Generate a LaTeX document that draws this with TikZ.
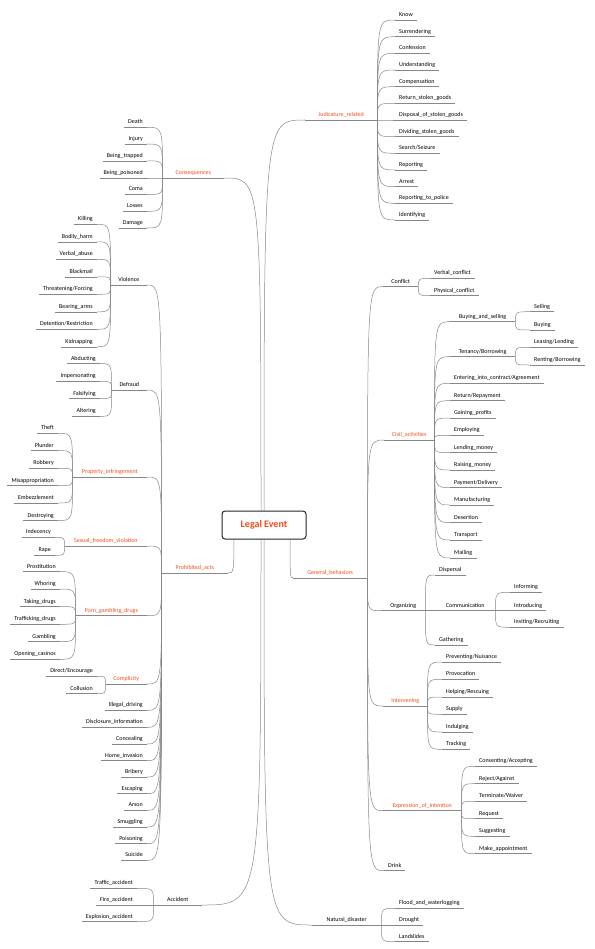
\documentclass[tikz,border=0pt]{standalone}
\usepackage{fontspec}
\setmainfont{Carlito}
\usepackage{xcolor}
\usepackage{tikz}

\definecolor{eventred}{RGB}{244,76,28}
\definecolor{linegray}{RGB}{135,135,135}

\begin{document}
\begin{tikzpicture}[x=1pt, y=-1pt,
    topic/.style={inner xsep=4pt, inner ysep=2pt, text height=4.4pt, text depth=1.4pt,
      font=\fontsize{6}{7}\selectfont,
      append after command={(\tikzlastnode.south west) edge[uline] (\tikzlastnode.south east)}},
    rtopic/.style={topic, anchor=south west},
    ltopic/.style={topic, anchor=south east},
    hot/.style={text=eventred},
    uline/.style={draw=linegray, line width=0.5pt},
    link/.style={draw=linegray, line width=0.5pt,
      to path={.. controls (\tikztostart |- \tikztotarget) .. (\tikztotarget)}},
    rootbox/.style={rectangle, draw=black!85, line width=1pt, rounded corners=3pt, fill=white,
      minimum width=84pt, minimum height=28pt, text=eventred, font=\fontsize{10}{12}\selectfont\bfseries}
  ]
  \useasboundingbox (0,0) rectangle (594,949);

  % hubs inside the root box
  \coordinate (hubA) at (261,525);
  \coordinate (hubB) at (264,525);
  \coordinate (hubP) at (234,525);
  \coordinate (hubG) at (290,525);

  % main topics
  \node[rtopic, hot, minimum width=72pt] (jud)      at (305,120) {Judicature\_related};
  \node[ltopic, hot, minimum width=61pt] (conseq)   at (224,178) {Consequences};
  \node[ltopic, hot, minimum width=66pt] (prohib)   at (228,573) {Prohibited\_acts};
  \node[rtopic, hot, minimum width=74pt] (general)  at (293,578) {General\_behaviors};
  \node[ltopic, minimum width=48pt]      (accident) at (202,905) {Accident};
  \node[rtopic, minimum width=69pt]      (natural)  at (312,925) {Natural\_disaster};

  % judicature
  \node[rtopic] (know)      at (395,20)    {Know};
  \node[rtopic] (surrender) at (395,36.7)  {Surrendering};
  \node[rtopic] (confess)   at (395,53.3)  {Confession};
  \node[rtopic] (underst)   at (395,70)    {Understanding};
  \node[rtopic] (compens)   at (395,86.7)  {Compensation};
  \node[rtopic] (retgoods)  at (395,103.3) {Return\_stolen\_goods};
  \node[rtopic] (disposal)  at (395,120)   {Disposal\_of\_stolen\_goods};
  \node[rtopic] (dividing)  at (395,136.7) {Dividing\_stolen\_goods};
  \node[rtopic] (search)    at (395,153.3) {Search/Seizure};
  \node[rtopic] (report)    at (395,170)   {Reporting};
  \node[rtopic] (arrest)    at (395,186.7) {Arrest};
  \node[rtopic] (reppolice) at (395,203.3) {Reporting\_to\_police};
  \node[rtopic] (identify)  at (395,220)   {Identifying};

  % consequences
  \node[ltopic] (death)    at (147,127.3) {Death};
  \node[ltopic] (injury)   at (147,144)   {Injury};
  \node[ltopic] (trapped)  at (147,160.8) {Being\_trapped};
  \node[ltopic] (poisoned) at (147,178)   {Being\_poisoned};
  \node[ltopic] (coma)     at (147,194.5) {Coma};
  \node[ltopic] (losses)   at (147,211.3) {Losses};
  \node[ltopic] (damage)   at (147,228)   {Damage};

  % prohibited acts
  \node[ltopic, minimum width=36pt]      (violence)   at (147,285)   {Violence};
  \node[ltopic, minimum width=35pt]      (defraud)    at (147,390)   {Defraud};
  \node[ltopic, hot, minimum width=74pt] (property)   at (147,477)   {Property\_infringement};
  \node[ltopic, hot, minimum width=82pt] (sexual)     at (147,546)   {Sexual\_freedom\_violation};
  \node[ltopic, hot, minimum width=71pt] (porn)       at (147,615.7) {Porn\_gambling\_drugs};
  \node[ltopic, hot, minimum width=41pt] (complicity) at (147,684)   {Complicity};
  \node[ltopic] (illegaldr) at (147,710.3) {Illegal\_driving};
  \node[ltopic] (disclose)  at (147,727.3) {Disclosure\_information};
  \node[ltopic] (conceal)   at (147,744)   {Concealing};
  \node[ltopic] (homeinv)   at (147,760.7) {Home\_invasion};
  \node[ltopic] (bribery)   at (147,777)   {Bribery};
  \node[ltopic] (escape)    at (147,793.7) {Escaping};
  \node[ltopic] (arson)     at (147,810.3) {Arson};
  \node[ltopic] (smuggle)   at (147,827)   {Smuggling};
  \node[ltopic] (poison)    at (147,843.7) {Poisoning};
  \node[ltopic] (suicide)   at (147,860.3) {Suicide};

  \node[ltopic] (killing)   at (97,224.3) {Killing};
  \node[ltopic] (bodily)    at (97,241.8) {Bodily\_harm};
  \node[ltopic] (verbal)    at (97,259.3) {Verbal\_abuse};
  \node[ltopic] (blackmail) at (97,276.8) {Blackmail};
  \node[ltopic] (threat)    at (97,294.3) {Threatening/Forcing};
  \node[ltopic] (arms)      at (97,311.8) {Bearing\_arms};
  \node[ltopic] (detention) at (97,329.3) {Detention/Restriction};
  \node[ltopic] (kidnap)    at (97,346.8) {Kidnapping};

  \node[ltopic] (abduct)   at (100,363.6) {Abducting};
  \node[ltopic] (imperson) at (100,381.3) {Impersonating};
  \node[ltopic] (falsify)  at (100,398.6) {Falsifying};
  \node[ltopic] (alter)    at (100,416.3) {Altering};

  \node[ltopic] (theft)    at (58,433.3) {Theft};
  \node[ltopic] (plunder)  at (58,450.6) {Plunder};
  \node[ltopic] (robbery)  at (58,468.3) {Robbery};
  \node[ltopic] (misapp)   at (58,485.6) {Misappropriation};
  \node[ltopic] (embezzle) at (58,503)   {Embezzlement};
  \node[ltopic] (destroy)  at (58,520.6) {Destroying};

  \node[ltopic] (indecency) at (55,537.3) {Indecency};
  \node[ltopic] (rape)      at (55,555.3) {Rape};

  \node[ltopic] (prostit)  at (60,571.6) {Prostitution};
  \node[ltopic] (whoring)  at (60,589)   {Whoring};
  \node[ltopic] (takedrug) at (60,606.6) {Taking\_drugs};
  \node[ltopic] (trafdrug) at (60,624.3) {Trafficking\_drugs};
  \node[ltopic] (gambling) at (60,641.6) {Gambling};
  \node[ltopic] (casinos)  at (60,659.3) {Opening\_casinos};

  \node[ltopic] (direct)    at (97,676.3) {Direct/Encourage};
  \node[ltopic] (collusion) at (97,693.6) {Collusion};

  % accident
  \node[ltopic] (traffic)   at (137,888.3) {Traffic\_accident};
  \node[ltopic] (fire)      at (137,905)   {Fire\_accident};
  \node[ltopic] (explosion) at (137,921.7) {Explosion\_accident};

  % general behaviors
  \node[rtopic, minimum width=35pt]      (conflict)   at (383,286.7) {Conflict};
  \node[rtopic, hot, minimum width=50pt] (civil)      at (384,440)   {Civil\_activities};
  \node[rtopic, minimum width=44pt]      (organizing) at (381,610.7) {Organizing};
  \node[rtopic, hot, minimum width=44pt] (intervene)  at (383,706)   {Intervening};
  \node[rtopic, hot, minimum width=78pt] (expression) at (383,810.7) {Expression\_of\_Intention};
  \node[rtopic, minimum width=21pt]      (drink)      at (384,870.7) {Drink};

  \node[rtopic] (verbalc)   at (430,278.3) {Verbal\_conflict};
  \node[rtopic] (physicalc) at (430,295.7) {Physical\_conflict};

  \node[rtopic, minimum width=65pt] (buysell) at (450,321.7) {Buying\_and\_selling};
  \node[rtopic, minimum width=65pt] (tenancy) at (450,356.7) {Tenancy/Borrowing};
  \node[rtopic] (entering)   at (450,383.3) {Entering\_into\_contract/Agreement};
  \node[rtopic] (repay)      at (450,400.7) {Return/Repayment};
  \node[rtopic] (gaining)    at (450,418)   {Gaining\_profits};
  \node[rtopic] (employ)     at (450,435.3) {Employing};
  \node[rtopic] (lendmoney)  at (450,452.7) {Lending\_money};
  \node[rtopic] (raisemoney) at (450,470)   {Raising\_money};
  \node[rtopic] (payment)    at (450,487.7) {Payment/Delivery};
  \node[rtopic] (manufact)   at (450,505)   {Manufacturing};
  \node[rtopic] (desert)     at (450,522.7) {Desertion};
  \node[rtopic] (transport)  at (450,540)   {Transport};
  \node[rtopic] (mailing)    at (450,558)   {Mailing};

  \node[rtopic] (selling) at (530,311.7) {Selling};
  \node[rtopic] (buying)  at (530,330)   {Buying};
  \node[rtopic] (leasing) at (530,347.3) {Leasing/Lending};
  \node[rtopic] (renting) at (530,365)   {Renting/Borrowing};

  \node[rtopic] (dispersal) at (435,575) {Dispersal};
  \node[rtopic, minimum width=60pt] (communic) at (435,610.7) {Communication};
  \node[rtopic] (gathering) at (435,645) {Gathering};

  \node[rtopic] (inform)    at (510,592.3) {Informing};
  \node[rtopic] (introduce) at (510,610.7) {Introducing};
  \node[rtopic] (invite)    at (510,627.3) {Inviting/Recruiting};

  \node[rtopic] (prevent)  at (442,662)   {Preventing/Nuisance};
  \node[rtopic] (provoke)  at (442,679.3) {Provocation};
  \node[rtopic] (helping)  at (442,697)   {Helping/Rescuing};
  \node[rtopic] (supply)   at (442,714.3) {Supply};
  \node[rtopic] (indulge)  at (442,732)   {Indulging};
  \node[rtopic] (tracking) at (442,749.3) {Tracking};

  \node[rtopic] (consent)   at (475,766.3) {Consenting/Accepting};
  \node[rtopic] (reject)    at (475,783.7) {Reject/Against};
  \node[rtopic] (terminate) at (475,801.3) {Terminate/Waiver};
  \node[rtopic] (request)   at (475,818.7) {Request};
  \node[rtopic] (suggest)   at (475,836.3) {Suggesting};
  \node[rtopic] (appoint)   at (475,853.7) {Make\_appointment};

  % natural disaster
  \node[rtopic] (flood)     at (395,908.3) {Flood\_and\_waterlogging};
  \node[rtopic] (drought)   at (395,925)   {Drought};
  \node[rtopic] (landslide) at (395,941.7) {Landslides};

  % links from the root
  \path (hubB) edge[link] (jud.south west)
        (hubA) edge[link] (conseq.south east)
        (hubP) edge[link] (prohib.south east)
        (hubG) edge[link] (general.south west)
        (hubA) edge[link] (accident.south east)
        (hubB) edge[link] (natural.south west);

  \path (jud.south east)
    edge[link] (know.south west)     edge[link] (surrender.south west)
    edge[link] (confess.south west)  edge[link] (underst.south west)
    edge[link] (compens.south west)  edge[link] (retgoods.south west)
    edge[link] (disposal.south west) edge[link] (dividing.south west)
    edge[link] (search.south west)   edge[link] (report.south west)
    edge[link] (arrest.south west)   edge[link] (reppolice.south west)
    edge[link] (identify.south west);

  \path (conseq.south west)
    edge[link] (death.south east)    edge[link] (injury.south east)
    edge[link] (trapped.south east)  edge[link] (poisoned.south east)
    edge[link] (coma.south east)     edge[link] (losses.south east)
    edge[link] (damage.south east);

  \path (prohib.south west)
    edge[link] (violence.south east) edge[link] (defraud.south east)
    edge[link] (property.south east) edge[link] (sexual.south east)
    edge[link] (porn.south east)     edge[link] (complicity.south east)
    edge[link] (illegaldr.south east) edge[link] (disclose.south east)
    edge[link] (conceal.south east)  edge[link] (homeinv.south east)
    edge[link] (bribery.south east)  edge[link] (escape.south east)
    edge[link] (arson.south east)    edge[link] (smuggle.south east)
    edge[link] (poison.south east)   edge[link] (suicide.south east);

  \path (violence.south west)
    edge[link] (killing.south east)   edge[link] (bodily.south east)
    edge[link] (verbal.south east)    edge[link] (blackmail.south east)
    edge[link] (threat.south east)    edge[link] (arms.south east)
    edge[link] (detention.south east) edge[link] (kidnap.south east);

  \path (defraud.south west)
    edge[link] (abduct.south east)  edge[link] (imperson.south east)
    edge[link] (falsify.south east) edge[link] (alter.south east);

  \path (property.south west)
    edge[link] (theft.south east)   edge[link] (plunder.south east)
    edge[link] (robbery.south east) edge[link] (misapp.south east)
    edge[link] (embezzle.south east) edge[link] (destroy.south east);

  \path (sexual.south west)
    edge[link] (indecency.south east) edge[link] (rape.south east);

  \path (porn.south west)
    edge[link] (prostit.south east)  edge[link] (whoring.south east)
    edge[link] (takedrug.south east) edge[link] (trafdrug.south east)
    edge[link] (gambling.south east) edge[link] (casinos.south east);

  \path (complicity.south west)
    edge[link] (direct.south east) edge[link] (collusion.south east);

  \path (accident.south west)
    edge[link] (traffic.south east) edge[link] (fire.south east)
    edge[link] (explosion.south east);

  \path (general.south east)
    edge[link] (conflict.south west)   edge[link] (civil.south west)
    edge[link] (organizing.south west) edge[link] (intervene.south west)
    edge[link] (expression.south west) edge[link] (drink.south west);

  \path (conflict.south east)
    edge[link] (verbalc.south west) edge[link] (physicalc.south west);

  \path (civil.south east)
    edge[link] (buysell.south west)    edge[link] (tenancy.south west)
    edge[link] (entering.south west)   edge[link] (repay.south west)
    edge[link] (gaining.south west)    edge[link] (employ.south west)
    edge[link] (lendmoney.south west)  edge[link] (raisemoney.south west)
    edge[link] (payment.south west)    edge[link] (manufact.south west)
    edge[link] (desert.south west)     edge[link] (transport.south west)
    edge[link] (mailing.south west);

  \path (buysell.south east)
    edge[link] (selling.south west) edge[link] (buying.south west);
  \path (tenancy.south east)
    edge[link] (leasing.south west) edge[link] (renting.south west);

  \path (organizing.south east)
    edge[link] (dispersal.south west) edge[link] (communic.south west)
    edge[link] (gathering.south west);
  \path (communic.south east)
    edge[link] (inform.south west) edge[link] (introduce.south west)
    edge[link] (invite.south west);

  \path (intervene.south east)
    edge[link] (prevent.south west) edge[link] (provoke.south west)
    edge[link] (helping.south west) edge[link] (supply.south west)
    edge[link] (indulge.south west) edge[link] (tracking.south west);

  \path (expression.south east)
    edge[link] (consent.south west)   edge[link] (reject.south west)
    edge[link] (terminate.south west) edge[link] (request.south west)
    edge[link] (suggest.south west)   edge[link] (appoint.south west);

  \path (natural.south east)
    edge[link] (flood.south west) edge[link] (drought.south west)
    edge[link] (landslide.south west);

  % root on top
  \node[rootbox] (root) at (264,525) {Legal Event};
\end{tikzpicture}
\end{document}
